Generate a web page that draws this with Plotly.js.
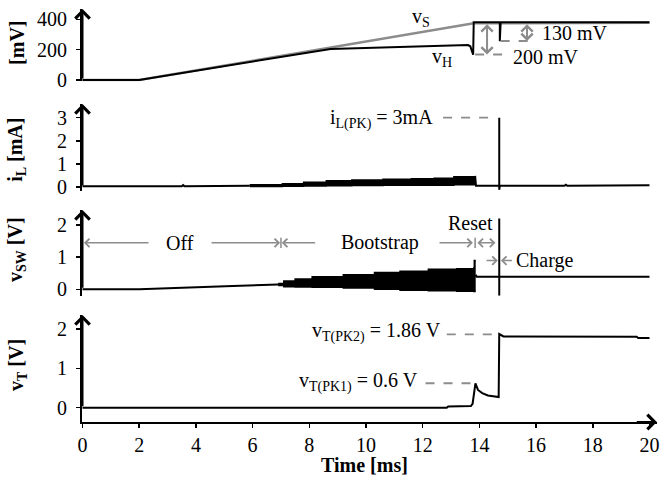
<!DOCTYPE html>
<html>
<head>
<meta charset="utf-8">
<script src="https://cdn.plot.ly/plotly-3.0.1.min.js"></script>
<style>html,body{margin:0;padding:0;background:#fff;}#chart{width:660px;height:477px;}</style>
</head>
<body>
<div id="chart"></div>
<script>
// ---------- data ----------
// Panel 1: vS and vH [mV]
const vS_t = [0, 2, 13.8, 20];
const vS_mV = [0, 0, 374, 378];
const vH_t = [0, 2, 8.75, 11.0, 13.6, 13.68, 13.74, 13.78, 13.8, 14.72, 14.72, 14.75, 20];
const vH_mV = [0, 0, 205, 218, 230, 222, 190, 166, 380, 380, 255, 380, 380];

// Panel 2: iL [mA]
const iL_pre_t = [0, 3.5, 3.55, 3.6, 5.9];
const iL_pre = [0.03, 0.03, 0.08, 0.03, 0.05];
const iL_band_t = [5.9, 7.05, 7.8, 8.6, 9.5, 10.6, 11.6, 12.4, 13.1, 13.85];
const iL_band_hi = [0.10, 0.14, 0.20, 0.27, 0.30, 0.33, 0.36, 0.38, 0.44, 0.48];
const iL_band_lo = [0.02, 0.03, 0.04, 0.05, 0.06, 0.08, 0.08, 0.08, 0.10, 0.10];
const iL_post_t = [13.85, 13.88, 14.7, 14.7, 14.7, 14.72, 17.0, 17.05, 17.1, 20];
const iL_post = [0.48, 0.05, 0.05, 3.0, -0.12, 0.05, 0.05, 0.1, 0.05, 0.07];

// Panel 3: vSW [V]
const vSW_pre_t = [0, 2, 5.3, 6.9];
const vSW_pre = [0, 0, 0.10, 0.15];
const vSW_band_t = [6.9, 7.1, 7.5, 8.1, 9.2, 10.3, 11.2, 12.2, 13.2, 13.8, 13.82, 13.87];
const vSW_band_hi = [0.18, 0.26, 0.32, 0.39, 0.45, 0.52, 0.56, 0.62, 0.64, 0.66, 0.89, 0.89];
const vSW_band_lo = [0.12, 0.08, 0.07, 0.06, 0.04, 0.0, -0.03, -0.05, -0.06, -0.07, -0.07, -0.07];
const vSW_post_t = [13.87, 13.9, 20];
const vSW_post = [0.45, 0.39, 0.39];

// Panel 4: vT [V]
const vT_t = [0, 12.85, 12.9, 13.7, 13.76, 13.82, 13.86, 13.95, 14.1, 14.3, 14.68, 14.7, 14.75, 14.85, 19.55, 19.6, 20];
const vT = [0, 0, 0.03, 0.04, 0.1, 0.45, 0.62, 0.45, 0.37, 0.31, 0.27, 1.87, 1.85, 1.81, 1.80, 1.77, 1.77];

// tick labels
const xTicks = [0, 2, 4, 6, 8, 10, 12, 14, 16, 18, 20];
const y1Ticks = [0, 200, 400];
const y2Ticks = [0, 1, 2, 3];
const y3Ticks = [0, 1, 2];
const y4Ticks = [0, 1, 2];

// ---------- styles ----------
const BLACK = '#000';
const GRAY = '#8c8c8c';
const FONT = 'Liberation Serif';
const LW = 2;

function line(x, y, xa, ya, color, w, extra) {
  return Object.assign({x: x, y: y, xaxis: xa, yaxis: ya, mode: 'lines', type: 'scatter',
    line: {color: color, width: w}, hoverinfo: 'skip', cliponaxis: true}, extra || {});
}

const traces = [
  line(vS_t, vS_mV, 'x', 'y', GRAY, 2.5),
  line(vH_t, vH_mV, 'x', 'y', BLACK, LW),
  line(iL_pre_t, iL_pre, 'x2', 'y2', BLACK, LW),
  line(iL_band_t, iL_band_lo, 'x2', 'y2', BLACK, 1.5, {line: {color: BLACK, width: 1.5, shape: 'hv'}}),
  line(iL_band_t, iL_band_hi, 'x2', 'y2', BLACK, 1.5, {line: {color: BLACK, width: 1.5, shape: 'hv'}, fill: 'tonexty', fillcolor: BLACK}),
  line(iL_post_t, iL_post, 'x2', 'y2', BLACK, LW),
  line(vSW_pre_t, vSW_pre, 'x3', 'y3', BLACK, LW),
  line(vSW_band_t, vSW_band_lo, 'x3', 'y3', BLACK, 1.5, {line: {color: BLACK, width: 1.5, shape: 'hv'}}),
  line(vSW_band_t, vSW_band_hi, 'x3', 'y3', BLACK, 1.5, {line: {color: BLACK, width: 1.5, shape: 'hv'}, fill: 'tonexty', fillcolor: BLACK}),
  line(vSW_post_t, vSW_post, 'x3', 'y3', BLACK, LW),
  line(vT_t, vT, 'x4', 'y4', BLACK, LW)
];

// ---------- layout ----------
const XR = [-0.018, 20.265];
const yr1 = [-9.9, 468], yr2 = [-0.165, 3.59], yr3 = [-0.2, 2.46], yr4 = [-0.363, 2.353];

function yax(domain, range, ticks, anchor) {
  return {domain: domain, range: range, anchor: anchor, tickvals: ticks,
    showline: true, linewidth: 2, linecolor: BLACK, ticks: 'outside', ticklen: 4, tickwidth: 1.5,
    tickcolor: BLACK, showgrid: false, zeroline: false, fixedrange: true, ticklabelstandoff: 5,
    tickfont: {family: FONT, size: 20, color: BLACK}};
}
function xhid(anchor) {
  return {domain: [0, 1], range: XR, anchor: anchor, visible: false, showgrid: false, zeroline: false};
}

const ann = [];
function txt(text, x, y, xa, ya, xanchor, extra) {
  ann.push(Object.assign({text: text, x: x, y: y, xref: xa, yref: ya, showarrow: false,
    xanchor: xanchor || 'center', yanchor: 'middle', font: {family: FONT, size: 20, color: BLACK}}, extra || {}));
}
function arrow(tipX, tipY, tailX, tailY, xa, ya, color, w, both, size) {
  ann.push({text: '', x: tipX, y: tipY, ax: tailX, ay: tailY, xref: xa, yref: ya, axref: xa, ayref: ya,
    showarrow: true, arrowhead: 4, arrowsize: size || 1.1, arrowwidth: w, arrowcolor: color,
    arrowside: both ? 'end+start' : 'end', standoff: 0, startstandoff: 0});
}

// axis arrows
arrow(0, yr1[1], 0, 0, 'x', 'y', BLACK, 2, false, 1.4);
arrow(0, yr2[1], 0, 0, 'x2', 'y2', BLACK, 2, false, 1.4);
arrow(0, yr3[1], 0, 0, 'x3', 'y3', BLACK, 2, false, 1.4);
arrow(0, yr4[1], 0, 0, 'x4', 'y4', BLACK, 2, false, 1.4);
arrow(20.26, yr4[0], 19.5, yr4[0], 'x4', 'y4', BLACK, 2, false, 1.4);

// axis titles
const paperX = -0.113;
txt('<b>[mV]</b>', paperX, 0.918, 'paper', 'paper', 'center', {textangle: -90});
txt('<b>i<sub>L</sub> [mA]</b>', paperX, 0.659, 'paper', 'paper', 'center', {textangle: -90});
txt('<b>v<sub>SW</sub> [V]</b>', paperX, 0.4165, 'paper', 'paper', 'center', {textangle: -90});
txt('<b>v<sub>T</sub> [V]</b>', paperX, 0.138, 'paper', 'paper', 'center', {textangle: -90});
txt('<b>Time [ms]</b>', 0.492, -0.104, 'paper', 'paper', 'center');

// panel 1 annotations
txt('v<sub>S</sub>', 11.95, 410, 'x', 'y');
txt('v<sub>H</sub>', 12.68, 145, 'x', 'y');
arrow(14.27, 168, 14.27, 378, 'x', 'y', GRAY, 2, true, 1.1);
arrow(15.68, 257, 15.68, 378, 'x', 'y', GRAY, 2, true, 1.1);
txt('200 mV', 15.1, 150, 'x', 'y', 'left');
txt('130 mV', 16.14, 310, 'x', 'y', 'left');

// panel 2 annotations
txt('i<sub>L(PK)</sub> = 3mA', 12.43, 2.92, 'x2', 'y2', 'right');

// panel 3 annotations
const rowY = 1.44;
arrow(0.05, rowY, 2.38, rowY, 'x3', 'y3', GRAY, 1.5, false);
txt('Off', 3.44, rowY, 'x3', 'y3');
arrow(6.97, rowY, 4.5, rowY, 'x3', 'y3', GRAY, 1.5, false);
arrow(7.03, rowY, 8.26, rowY, 'x3', 'y3', GRAY, 1.5, false);
txt('Bootstrap', 10.5, rowY, 'x3', 'y3');
arrow(13.77, rowY, 12.54, rowY, 'x3', 'y3', GRAY, 1.5, false);
arrow(13.93, rowY, 14.62, rowY, 'x3', 'y3', GRAY, 1.5, true);
txt('Reset', 13.67, 2.07, 'x3', 'y3');
arrow(14.65, 0.89, 14.2, 0.89, 'x3', 'y3', GRAY, 1.5, false);
arrow(14.76, 0.89, 15.2, 0.89, 'x3', 'y3', GRAY, 1.5, false);
txt('Charge', 15.22, 0.89, 'x3', 'y3', 'left');

// panel 4 annotations
txt('v<sub>T(PK2)</sub> = 1.86 V', 12.71, 1.92, 'x4', 'y4', 'right');
txt('v<sub>T(PK1)</sub> = 0.6 V', 11.9, 0.65, 'x4', 'y4', 'right');

const shapes = [];
function seg(x0, y0, x1, y1, xa, ya, color, w, dash) {
  shapes.push({type: 'line', x0: x0, y0: y0, x1: x1, y1: y1, xref: xa, yref: ya,
    line: {color: color, width: w, dash: dash || 'solid'}});
}
seg(13.85, 168, 14.95, 168, 'x', 'y', GRAY, 1.8, 'dash');
seg(14.75, 257, 15.9, 257, 'x', 'y', GRAY, 1.8, 'dash');
seg(12.72, 3.0, 14.6, 3.0, 'x2', 'y2', GRAY, 1.8, 'dash');
seg(7.0, rowY - 0.16, 7.0, rowY + 0.16, 'x3', 'y3', GRAY, 1.5);
seg(13.85, rowY - 0.16, 13.85, rowY + 0.16, 'x3', 'y3', GRAY, 1.5);
seg(14.7, -0.2, 14.7, 2.2, 'x3', 'y3', BLACK, 2);
seg(12.85, 1.86, 14.68, 1.86, 'x4', 'y4', GRAY, 1.8, 'dash');
seg(12.1, 0.62, 13.84, 0.62, 'x4', 'y4', GRAY, 1.8, 'dash');

const layout = {
  width: 660, height: 477,
  margin: {l: 82, r: 3, t: 9, b: 55, pad: 0},
  paper_bgcolor: '#fff', plot_bgcolor: 'rgba(0,0,0,0)',
  showlegend: false,
  font: {family: FONT, size: 20, color: BLACK},
  xaxis: xhid('y'),
  xaxis2: xhid('y2'),
  xaxis3: xhid('y3'),
  xaxis4: {domain: [0, 1], range: XR, anchor: 'y4', tickvals: xTicks, showline: true, linewidth: 2,
    linecolor: BLACK, ticks: 'outside', ticklen: 4, tickwidth: 1.5, tickcolor: BLACK,
    showgrid: false, zeroline: false, fixedrange: true,
    tickfont: {family: FONT, size: 20, color: BLACK}},
  yaxis: yax([0.8245, 1], yr1, y1Ticks, 'x'),
  yaxis2: yax([0.5598, 0.7700], yr2, y2Ticks, 'x2'),
  yaxis3: yax([0.3058, 0.5133], yr3, y3Ticks, 'x3'),
  yaxis4: yax([0, 0.2591], yr4, y4Ticks, 'x4'),
  annotations: ann,
  shapes: shapes
};

Plotly.newPlot('chart', traces, layout, {staticPlot: true, displayModeBar: false});
</script>
</body>
</html>
